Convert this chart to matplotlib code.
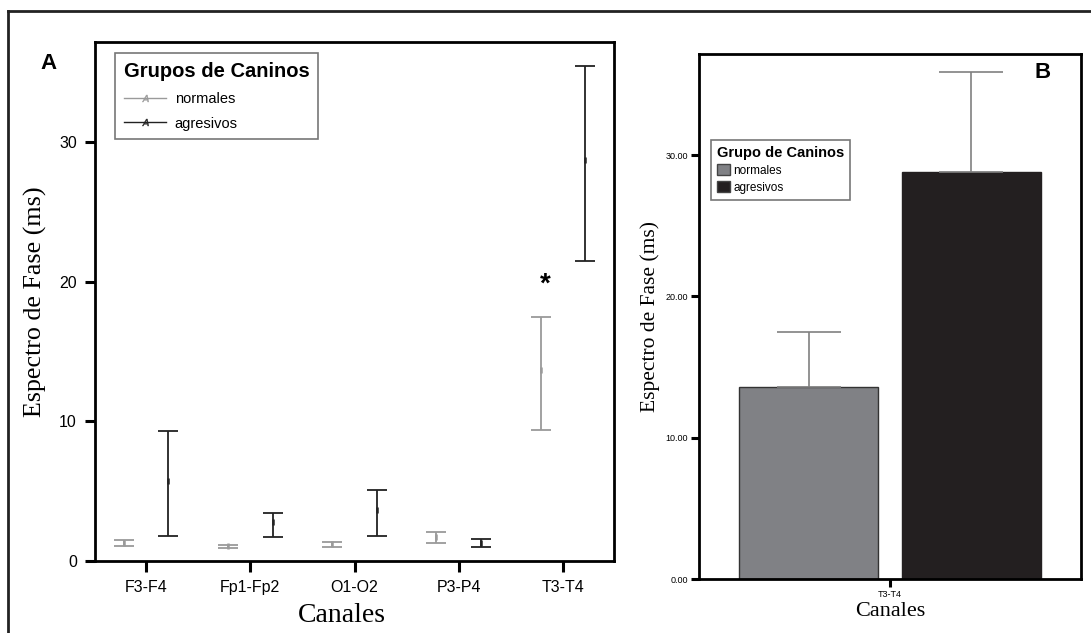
import matplotlib
matplotlib.use("Agg")
import matplotlib.pyplot as plt
from matplotlib.lines import Line2D
from matplotlib.patches import Patch

plt.rcParams.update({
    "font.family": "Liberation Sans",
    "axes.linewidth": 2,
})

# panel A data: channels, lower / upper bound and mean per group
canales = ["F3-F4", "Fp1-Fp2", "O1-O2", "P3-P4", "T3-T4"]
normales_lo = [1.10, 0.91, 1.03, 1.30, 9.40]
normales_hi = [1.47, 1.18, 1.39, 2.09, 17.50]
normales_mean = [1.30, 1.05, 1.20, 1.70, 13.70]
agresivos_lo = [1.80, 1.71, 1.80, 1.01, 21.50]
agresivos_hi = [9.28, 3.44, 5.05, 1.59, 35.45]
agresivos_mean = [5.72, 2.79, 3.68, 1.30, 28.70]

# panel B data: T3-T4 only
grupos = ["normales", "agresivos"]
barras_media = [13.6, 28.8]
barras_sup = [17.5, 35.9]
colores_barras = ["#808185", "#231f20"]

GRIS = "#9a9a9a"
NEGRO = "#222222"
SERIF = "Liberation Serif"

fig = plt.figure(figsize=(10.91, 6.33), dpi=100)

# ---------------- panel A ----------------
ax = fig.add_axes([0.0871, 0.1137, 0.4757, 0.8199])
x = list(range(len(canales)))
off = 0.215
for i in x:
    for xi, lo, hi, m, c in [(i - off, normales_lo[i], normales_hi[i], normales_mean[i], GRIS),
                             (i + off, agresivos_lo[i], agresivos_hi[i], agresivos_mean[i], NEGRO)]:
        ax.errorbar([xi], [m], yerr=[[m - lo], [hi - m]], fmt="none",
                    ecolor=c, elinewidth=1.3, capsize=7.2, capthick=1.3)
        ax.plot([xi], [m], marker="|", markersize=5, color=c, mew=1.8)

ax.text(3.83, 19.8, "*", fontsize=20, fontweight="bold", ha="center", va="center")

ax.set_xlim(-0.49, 4.49)
ax.set_ylim(0, 37.15)
ax.set_xticks(x)
ax.set_xticklabels(canales, fontsize=11.5)
ax.set_yticks([0, 10, 20, 30])
ax.tick_params(axis="both", direction="out", width=2.2, length=7, labelsize=11.5, pad=6)
ax.tick_params(axis="x", length=8)
ax.set_xlabel("Canales", family=SERIF, fontsize=20, labelpad=8)
ax.xaxis.set_label_coords(0.475, -0.08)
ax.set_ylabel("Espectro de Fase (ms)", family=SERIF, fontsize=18.7, labelpad=9)

h_leg = [Line2D([0], [0], color=GRIS, lw=1, marker="$A$", markersize=5, markeredgewidth=0.3),
         Line2D([0], [0], color=NEGRO, lw=1, marker="$A$", markersize=5, markeredgewidth=0.3)]
leg = ax.legend(h_leg, grupos, title="Grupos de Caninos", loc="upper left",
                bbox_to_anchor=(0.0385, 0.979), borderaxespad=0, fancybox=False,
                edgecolor="#555555", fontsize=10.5, handlelength=2.9, handletextpad=0.6,
                labelspacing=0.75, borderpad=0.6, alignment="left",
                title_fontproperties={"weight": "bold", "size": 14.5, "family": "Liberation Sans"})
leg.get_frame().set_linewidth(1.2)

# ---------------- panel B ----------------
bx = fig.add_axes([0.6407, 0.0853, 0.3501, 0.8294])
pos = [-0.205, 0.205]
bx.bar(pos, barras_media, width=0.35, color=colores_barras,
       edgecolor=["#333333", colores_barras[1]], linewidth=1)
bx.errorbar(pos, barras_media,
            yerr=[[0, 0], [barras_sup[0] - barras_media[0], barras_sup[1] - barras_media[1]]],
            fmt="none", ecolor="#808080", elinewidth=1.2, capsize=23, capthick=1.2)
bx.set_xlim(-0.481, 0.481)
bx.set_ylim(0, 37.15)
bx.set_xticks([0])
bx.set_xticklabels(["T3-T4"], fontsize=6.5)
bx.set_yticks([0, 10, 20, 30])
bx.set_yticklabels(["0.00", "10.00", "20.00", "30.00"], fontsize=6.5)
bx.tick_params(axis="both", direction="out", width=2.2, length=6, pad=2)
bx.set_xlabel("Canales", family=SERIF, fontsize=16, labelpad=2)
bx.set_ylabel("Espectro de Fase (ms)", family=SERIF, fontsize=15.5, labelpad=4)

h_bar = [Patch(facecolor=c, edgecolor="#444444") for c in colores_barras]
leg2 = bx.legend(h_bar, grupos, title="Grupo de Caninos", loc="upper left",
                 bbox_to_anchor=(0.031, 0.836), borderaxespad=0, fancybox=False,
                 edgecolor="#555555", fontsize=8.5, handlelength=1.1, handleheight=1.1,
                 handletextpad=0.3, labelspacing=0.35, borderpad=0.5, alignment="left",
                 title_fontproperties={"weight": "bold", "size": 10.5, "family": "Liberation Sans"})
leg2.get_frame().set_linewidth(1.2)

# panel letters and outer frame
fig.text(0.044, 0.90, "A", fontsize=16, fontweight="bold", ha="center", va="center")
fig.text(0.956, 0.886, "B", fontsize=16, fontweight="bold", ha="center", va="center")
fig.add_artist(Line2D([8 / 1091, 1], [1 - 11 / 633, 1 - 11 / 633], color="#222222", lw=2))
fig.add_artist(Line2D([8 / 1091, 8 / 1091], [0, 1 - 11 / 633], color="#222222", lw=2))

fig.savefig("out.png", dpi=100)
